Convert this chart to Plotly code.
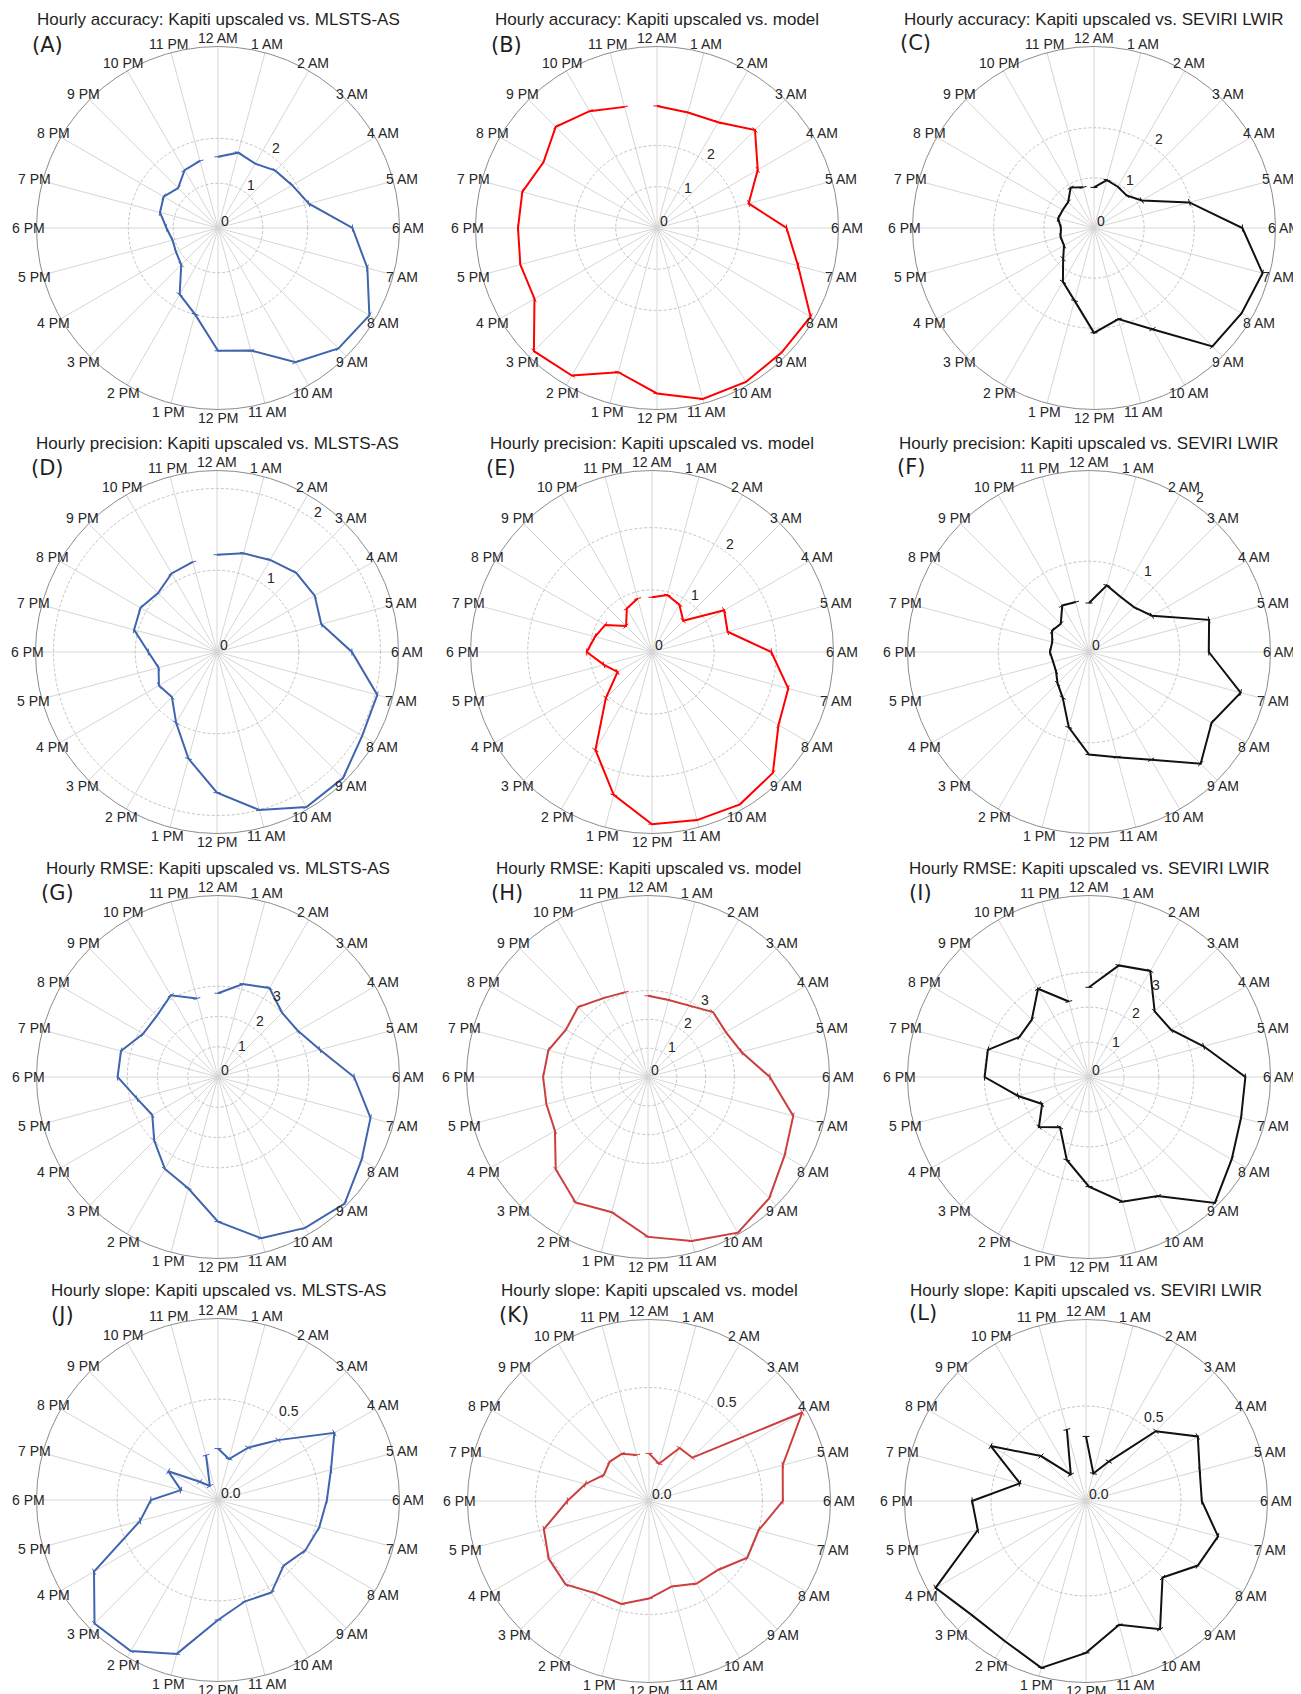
import math
import plotly.graph_objects as go

# ---------------- data ----------------
hours = ["12 AM", "1 AM", "2 AM", "3 AM", "4 AM", "5 AM", "6 AM", "7 AM", "8 AM", "9 AM",
         "10 AM", "11 AM", "12 PM", "1 PM", "2 PM", "3 PM", "4 PM", "5 PM", "6 PM", "7 PM",
         "8 PM", "9 PM", "10 PM", "11 PM"]

accuracy_mlsts = [1.59, 1.74, 1.66, 1.81, 1.91, 2.10, 3.00, 3.45, 3.90, 3.80, 3.46, 2.83,
                  2.74, 1.99, 1.71, 1.16, 1.08, 1.05, 1.15, 1.34, 1.40, 1.26, 1.49, 1.55]
accuracy_model = [2.96, 2.90, 2.96, 3.36, 2.82, 2.30, 3.14, 3.54, 4.30, 4.27, 4.31, 4.29,
                  4.01, 3.62, 4.13, 4.22, 3.43, 3.43, 3.37, 3.38, 3.18, 3.47, 3.27, 3.04]
accuracy_seviri = [0.81, 0.99, 0.95, 0.92, 1.10, 1.97, 2.96, 3.48, 3.40, 3.34, 2.33, 1.88,
                   2.09, 1.50, 1.24, 0.87, 0.69, 0.69, 0.66, 0.74, 0.72, 0.73, 0.93, 0.84]

precision_mlsts = [1.19, 1.25, 1.30, 1.37, 1.38, 1.32, 1.65, 2.03, 2.05, 2.18, 2.19, 2.00,
                   1.72, 1.35, 1.00, 0.78, 0.82, 0.74, 0.84, 1.05, 1.08, 1.02, 1.11, 1.14]
precision_model = [0.88, 0.95, 0.88, 0.71, 1.34, 1.26, 1.92, 2.27, 2.35, 2.75, 2.83, 2.80,
                   2.77, 2.38, 1.82, 1.05, 0.64, 0.80, 1.05, 0.95, 0.87, 0.59, 0.81, 0.89]
precision_seviri = [0.54, 0.76, 0.70, 0.70, 0.80, 1.37, 1.32, 1.73, 1.56, 1.74, 1.37, 1.20,
                    1.13, 0.86, 0.58, 0.49, 0.42, 0.41, 0.43, 0.42, 0.47, 0.44, 0.59, 0.57]

rmse_mlsts = [2.77, 3.18, 3.40, 3.00, 3.05, 3.49, 4.50, 5.22, 5.48, 5.92, 5.76, 5.52,
              4.78, 3.81, 3.51, 2.98, 2.51, 2.77, 3.32, 3.32, 2.86, 2.86, 3.12, 2.69]
rmse_model = [2.82, 2.77, 2.86, 3.19, 3.12, 3.36, 4.23, 5.22, 5.47, 5.95, 6.24, 5.89,
              5.55, 4.86, 5.03, 4.53, 3.73, 3.65, 3.64, 3.58, 3.29, 3.43, 3.15, 3.05]
rmse_seviri = [2.57, 3.31, 3.51, 2.66, 2.71, 3.40, 4.48, 4.51, 4.72, 5.10, 3.94, 3.70,
               3.14, 2.46, 1.66, 2.03, 1.55, 2.10, 2.99, 3.00, 2.30, 2.32, 2.92, 2.24]

slope_mlsts = [0.255, 0.21, 0.30, 0.42, 0.666, 0.58, 0.54, 0.52, 0.50, 0.46, 0.53, 0.52,
               0.595, 0.79, 0.865, 0.866, 0.71, 0.40, 0.333, 0.19, 0.285, 0.128, 0.08, 0.23]
slope_model = [0.21, 0.17, 0.27, 0.27, 0.78, 0.61, 0.59, 0.50, 0.50, 0.43, 0.42, 0.39,
               0.43, 0.47, 0.47, 0.52, 0.51, 0.48, 0.36, 0.29, 0.23, 0.245, 0.24, 0.21]
slope_seviri = [0.34, 0.15, 0.24, 0.52, 0.68, 0.62, 0.61, 0.72, 0.68, 0.57, 0.78, 0.675,
                0.80, 0.91, 0.853, 0.85, 0.915, 0.59, 0.60, 0.36, 0.58, 0.335, 0.16, 0.39]

titles = [
    "Hourly accuracy: Kapiti upscaled vs. MLSTS-AS",
    "Hourly accuracy: Kapiti upscaled vs. model",
    "Hourly accuracy: Kapiti upscaled vs. SEVIRI LWIR",
    "Hourly precision: Kapiti upscaled vs. MLSTS-AS",
    "Hourly precision: Kapiti upscaled vs. model",
    "Hourly precision: Kapiti upscaled vs. SEVIRI LWIR",
    "Hourly RMSE: Kapiti upscaled vs. MLSTS-AS",
    "Hourly RMSE: Kapiti upscaled vs. model",
    "Hourly RMSE: Kapiti upscaled vs. SEVIRI LWIR",
    "Hourly slope: Kapiti upscaled vs. MLSTS-AS",
    "Hourly slope: Kapiti upscaled vs. model",
    "Hourly slope: Kapiti upscaled vs. SEVIRI LWIR",
]
letters = ["(A)", "(B)", "(C)", "(D)", "(E)", "(F)", "(G)", "(H)", "(I)", "(J)", "(K)", "(L)"]
series = [accuracy_mlsts, accuracy_model, accuracy_seviri,
          precision_mlsts, precision_model, precision_seviri,
          rmse_mlsts, rmse_model, rmse_seviri,
          slope_mlsts, slope_model, slope_seviri]
radial_max = [4.05, 4.4, 3.62, 2.22, 2.92, 2.0, 6.0, 6.3, 5.2, 0.9, 0.8, 0.956]
tick_vals_int = [0, 1, 2]
tick_vals_rmse = [0, 1, 2, 3]
tick_vals_slope = [0.0, 0.5]
tick_text_slope = ["0.0", "0.5"]

# ---------------- styling / layout ----------------
W, H = 1301, 1694
OFF = 8  # default page margin around the plot div
BLUE, RED, DRED, BLACK = "#3F65AE", "#FF0000", "#CC3F3F", "#111111"
colors = [BLUE, RED, BLACK, BLUE, RED, BLACK, BLUE, DRED, BLACK, BLUE, DRED, BLACK]
# panel centres in page pixels
centers = [(218, 228), (657, 228), (1094, 228),
           (217, 652), (652, 652), (1089, 652),
           (218, 1077), (648, 1077), (1089, 1077),
           (218, 1500), (649, 1501), (1086, 1501)]
title_y = [20, 20, 20, 443, 443, 443, 868, 868, 868, 1290, 1290, 1290]
letter_pos = [(47, 45), (506, 45), (915, 43), (47, 468), (501, 468), (911, 467),
              (57, 893), (507, 893), (920, 893), (62, 1315), (514, 1315), (923, 1313)]
R = 181.5
LABEL_R = 190
FONT = "Liberation Sans, Arial, sans-serif"


def px(x):
    return (x - OFF) / W


def py(y):
    return 1 - (y - OFF) / H


fig = go.Figure()
layout = dict(width=W, height=H, margin=dict(l=0, r=0, t=0, b=0),
              paper_bgcolor="white", plot_bgcolor="white", showlegend=False,
              font=dict(family=FONT, color="#262626"))
annotations = []
for i in range(12):
    key = "polar" if i == 0 else f"polar{i + 1}"
    c = colors[i]
    fig.add_trace(go.Scatterpolar(
        r=series[i], theta=hours, mode="lines+markers", subplot=key,
        line=dict(color=c, width=2),
        marker=dict(symbol="line-ew", size=5, angle=[15 * h for h in range(24)],
                    color=c, line=dict(color=c, width=1)),
        hoverinfo="r+theta"))
    if i < 6:
        tv, tt = tick_vals_int, [str(v) for v in tick_vals_int]
    elif i < 9:
        tv, tt = tick_vals_rmse, [str(v) for v in tick_vals_rmse]
    else:
        tv, tt = tick_vals_slope, tick_text_slope
    cx, cy = centers[i]
    layout[key] = dict(
        domain=dict(x=[px(cx - R), px(cx + R)], y=[py(cy + R), py(cy - R)]),
        bgcolor="white",
        angularaxis=dict(type="category", categoryarray=hours, direction="clockwise",
                         rotation=90, showline=True, linecolor="#8c8c8c", linewidth=1,
                         gridcolor="#d6d6d6", gridwidth=1, ticks="", showticklabels=False),
        radialaxis=dict(range=[0, radial_max[i]], tickvals=tv, ticktext=tt,
                        showline=False, ticks="", angle=60, showticklabels=False,
                        gridcolor="#c4c4c4", gridwidth=1, griddash="3px,2px"),
    )
    # hour labels around the circle
    for h, lab in enumerate(hours):
        a = math.radians(15 * h)
        annotations.append(dict(text=lab, x=px(cx + LABEL_R * math.sin(a)),
                                y=py(cy - LABEL_R * math.cos(a)),
                                xref="paper", yref="paper", showarrow=False,
                                xanchor="center", yanchor="middle",
                                font=dict(size=14, color="#262626", family=FONT)))
    # radial tick labels
    ra = math.radians(55)
    for v, t in zip(tv, tt):
        base = v / radial_max[i] * R + 8
        annotations.append(dict(text=t, x=px(cx + base * math.cos(ra) - 3.5),
                                y=py(cy - base * math.sin(ra)),
                                xref="paper", yref="paper", showarrow=False,
                                xanchor="left", yanchor="middle",
                                font=dict(size=14, color="#262626", family=FONT)))
    annotations.append(dict(text=titles[i], x=px(cx), y=py(title_y[i]),
                            xref="paper", yref="paper", showarrow=False,
                            xanchor="center", yanchor="middle",
                            font=dict(size=17, color="#1f1f1f", family=FONT)))
    lx, ly = letter_pos[i]
    annotations.append(dict(text=letters[i], x=px(lx), y=py(ly),
                            xref="paper", yref="paper", showarrow=False,
                            xanchor="center", yanchor="middle",
                            font=dict(size=21, color="#1f1f1f", family="DejaVu Sans")))
layout["annotations"] = annotations
fig.update_layout(**layout)
fig.write_html("out.html")
